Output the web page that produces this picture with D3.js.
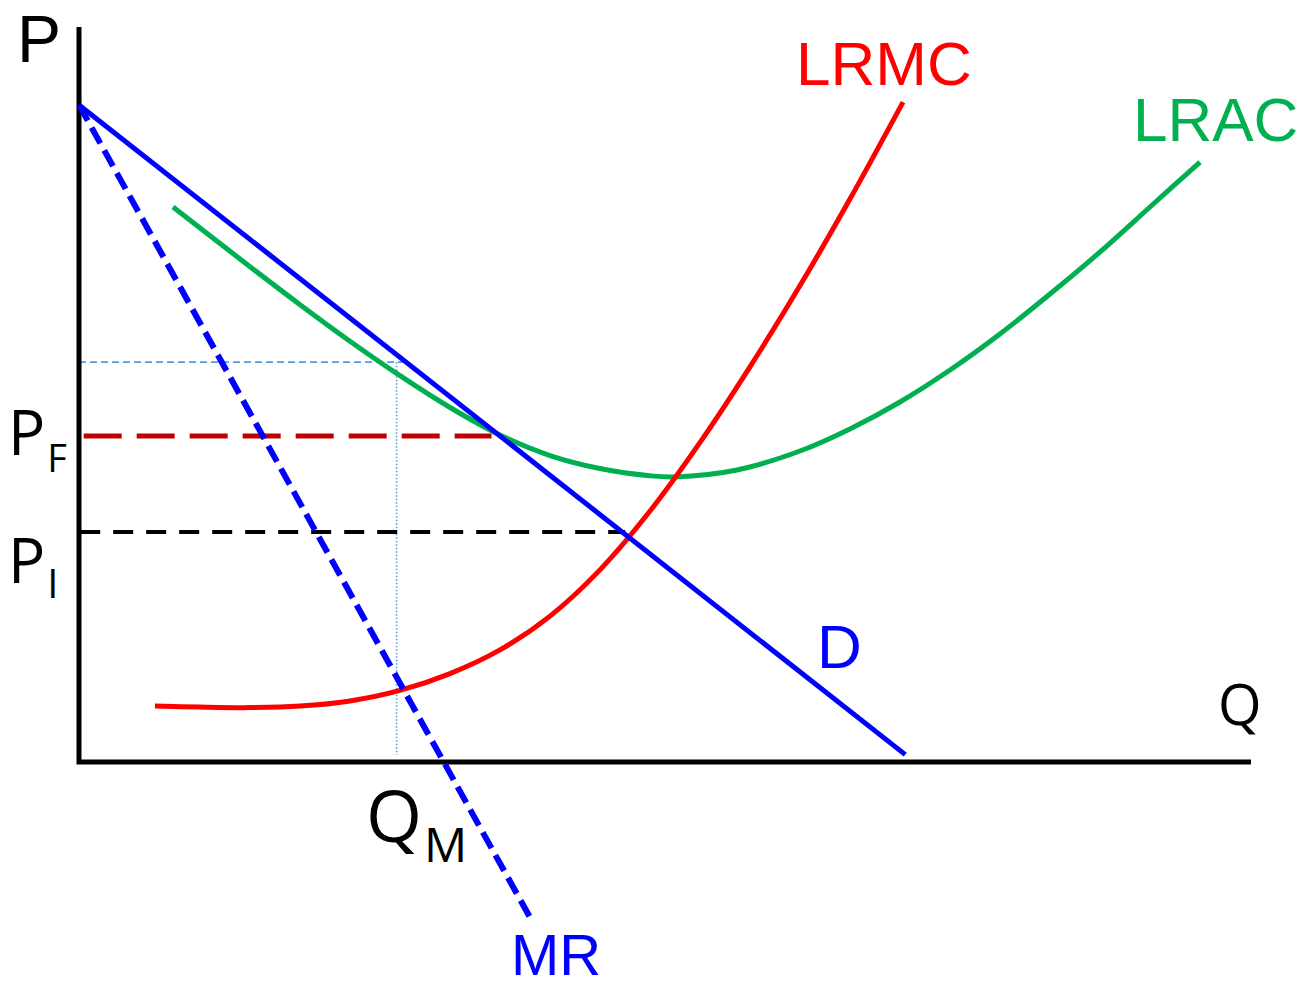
<!DOCTYPE html>
<html>
<head>
<meta charset="utf-8">
<script src="https://cdn.jsdelivr.net/npm/d3@7"></script>
<style>
    body { margin: 0; background: #fff; }
    #chart-container { width: 1310px; height: 988px; }
    .econ-label-arial { font-family: "Liberation Sans", Arial, sans-serif; }
    .econ-label-axis { font-family: "Open Sans", "Noto Sans", sans-serif; fill: #000; }
</style>
</head>
<body>
<div id="chart-container"></div>
<script>
//data (Q and P in chart units, 0-100)
var demandQ = [0, 70.5],
    demandP = [89.4, 1.0];

var mrQ = [0, 38.5],
    mrP = [89.4, -21.2];

var lrmcQ = [6.48, 10.32, 14.59, 18.86, 23.12, 27.39, 31.66, 35.92, 40.19, 44.45, 48.72, 52.99, 57.25, 61.52, 65.78, 70.31],
    lrmcP = [7.62, 7.47, 7.40, 7.61, 8.31, 9.74, 12.03, 15.25, 19.85, 26.14, 34.14, 43.48, 53.76, 64.82, 76.59, 89.78];

var lracQ = [8.02, 14.59, 18.86, 23.12, 27.39, 31.66, 35.92, 40.19, 44.45, 48.72, 50.85, 56.14, 61.52, 65.78, 70.05, 74.32, 78.58, 82.85, 87.12, 91.38, 95.65],
    lracP = [75.51, 67.39, 62.22, 57.25, 52.56, 48.23, 44.49, 41.70, 39.93, 38.94, 38.79, 39.73, 42.31, 45.31, 48.98, 53.33, 58.23, 63.67, 69.39, 75.51, 81.63];

//monopoly output / price guide lines
var monopolyQ = 27.1,
    monopolyP = 54.4,
    monopolyPEndQ = 27.8,
    firstBestP = 31.3,
    firstBestQ = 46.6,
    fairP = 44.35,
    fairQ = 35.2;

//labels
var curveLabels = ['LRMC', 'LRAC', 'D', 'MR'],
    axisLabels = ['P', 'Q'];

//containers
var chartContainer = d3.select('#chart-container'),
    chartSvg;

//scales
var xScale,
    yScale;

function zipPoints(qs, ps) {
    return qs.map(function(q, i) {
        return [q, ps[i]];
    });
}

function buildChart() {
    chartSvg = chartContainer.append('svg')
        .attr('width', 1310)
        .attr('height', 988);

    var line = d3.line()
        .x(function(d) { return xScale(d[0]); })
        .y(function(d) { return yScale(d[1]); });

    var smoothLine = d3.line()
        .curve(d3.curveCatmullRom.alpha(0.5))
        .x(function(d) { return xScale(d[0]); })
        .y(function(d) { return yScale(d[1]); });

    //guide lines
    chartSvg.append('path')
        .attr('d', line([[0, monopolyP], [monopolyPEndQ, monopolyP]]))
        .attr('stroke', '#5B9BD5')
        .attr('stroke-width', 1.6)
        .attr('stroke-dasharray', '7,4')
        .attr('fill', 'none');

    chartSvg.append('path')
        .attr('d', line([[monopolyQ, monopolyP], [monopolyQ, 1]]))
        .attr('stroke', '#5B9BD5')
        .attr('stroke-width', 1.6)
        .attr('stroke-dasharray', '1.5,2')
        .attr('fill', 'none');

    chartSvg.append('path')
        .attr('d', line([[0.4, fairP], [fairQ, fairP]]))
        .attr('stroke', '#C00000')
        .attr('stroke-width', 5)
        .attr('stroke-dasharray', '38,15')
        .attr('fill', 'none');

    chartSvg.append('path')
        .attr('d', line([[0.1, firstBestP], [firstBestQ, firstBestP]]))
        .attr('stroke', '#000')
        .attr('stroke-width', 4)
        .attr('stroke-dasharray', '20,13')
        .attr('fill', 'none');

    //axes
    chartSvg.append('path')
        .attr('d', line([[0, 100], [0, 0], [100, 0]]))
        .attr('stroke', '#000')
        .attr('stroke-width', 5)
        .attr('fill', 'none');

    //curves
    chartSvg.append('path')
        .attr('d', smoothLine(zipPoints(lracQ, lracP)))
        .attr('stroke', '#00B050')
        .attr('stroke-width', 5)
        .attr('fill', 'none');

    chartSvg.append('path')
        .attr('d', smoothLine(zipPoints(lrmcQ, lrmcP)))
        .attr('stroke', '#FF0000')
        .attr('stroke-width', 5)
        .attr('fill', 'none');

    chartSvg.append('path')
        .attr('d', line(zipPoints(mrQ, mrP)))
        .attr('stroke', '#0000FF')
        .attr('stroke-width', 6)
        .attr('stroke-dasharray', '18,8')
        .attr('fill', 'none');

    chartSvg.append('path')
        .attr('d', line(zipPoints(demandQ, demandP)))
        .attr('stroke', '#0000FF')
        .attr('stroke-width', 5)
        .attr('fill', 'none');

    //curve labels
    chartSvg.append('text')
        .attr('class', 'econ-label-arial')
        .attr('x', 796).attr('y', 85)
        .attr('font-size', 62)
        .attr('fill', '#FF0000')
        .text(curveLabels[0]);

    chartSvg.append('text')
        .attr('class', 'econ-label-arial')
        .attr('x', 1133).attr('y', 141)
        .attr('font-size', 62)
        .attr('fill', '#00B050')
        .text(curveLabels[1]);

    chartSvg.append('text')
        .attr('class', 'econ-label-arial')
        .attr('x', 817).attr('y', 668)
        .attr('font-size', 62)
        .attr('fill', '#0000FF')
        .text(curveLabels[2]);

    chartSvg.append('text')
        .attr('class', 'econ-label-arial')
        .attr('x', 511).attr('y', 975)
        .attr('font-size', 58)
        .attr('fill', '#0000FF')
        .text(curveLabels[3]);

    //axis labels
    chartSvg.append('text')
        .attr('class', 'econ-label-arial')
        .attr('x', 17).attr('y', 62)
        .attr('font-size', 66)
        .text(axisLabels[0]);

    chartSvg.append('text')
        .attr('class', 'econ-label-axis')
        .attr('x', 1218).attr('y', 725)
        .attr('font-size', 56)
        .text(axisLabels[1]);

    //P_F, P_I, Q_M
    var subLabels = [
        {main: 'P', sub: 'F', x: 8, y: 455, size: 62, subSize: 38, dy: 17},
        {main: 'P', sub: 'I', x: 8, y: 583, size: 62, subSize: 40, dy: 15},
        {main: 'Q', sub: 'M', x: 366, y: 842, size: 72, subSize: 48, dy: 20}
    ];

    subLabels.forEach(function(l) {
        var t = chartSvg.append('text')
            .attr('class', 'econ-label-axis')
            .attr('x', l.x).attr('y', l.y)
            .attr('font-size', l.size);
        t.append('tspan').text(l.main);
        t.append('tspan')
            .attr('font-size', l.subSize)
            .attr('dx', 2)
            .attr('dy', l.dy)
            .text(l.sub);
    });
}

function setupChart() {
    xScale = d3.scaleLinear().domain([0, 100]).range([79, 1251]);
    yScale = d3.scaleLinear().domain([0, 100]).range([762, 27]);

    buildChart();
}

setupChart();
</script>
</body>
</html>
